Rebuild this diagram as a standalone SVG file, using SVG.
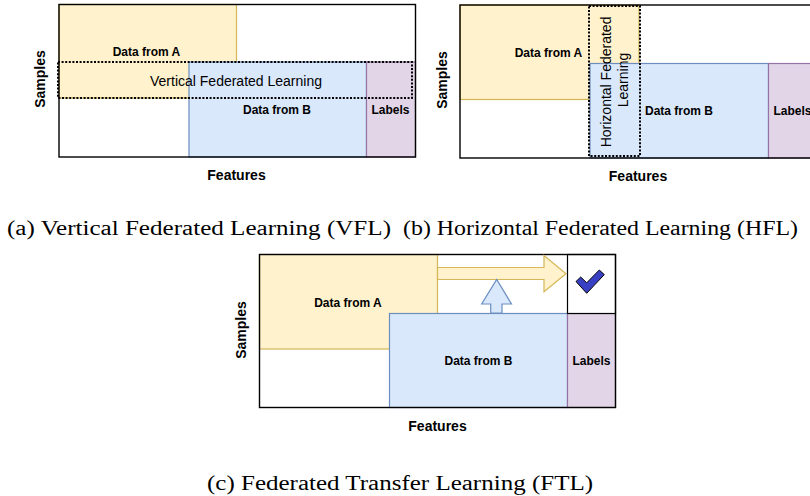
<svg xmlns="http://www.w3.org/2000/svg" width="810" height="496" viewBox="0 0 810 496">
  <style>
    .bg { fill: #ffffff; }
    .frame { fill: none; stroke: #000000; stroke-width: 1.4; }
    .dataA { fill: #fff2cc; stroke: #d6b656; stroke-width: 1.2; }
    .dataB { fill: #dae8fc; stroke: #6c8ebf; stroke-width: 1.2; }
    .labels { fill: #e1d5e7; stroke: #9673a6; stroke-width: 1.2; }
    .cell { fill: #ffffff; stroke: #000000; stroke-width: 1.2; }
    .dotted { fill: none; stroke: #000000; stroke-width: 2; stroke-dasharray: 2 1.6; }
    .lbl { font-family: "Liberation Sans", Arial, sans-serif; font-weight: bold; font-size: 12px; fill: #000000; text-anchor: middle; dominant-baseline: central; }
    .axis { font-family: "Liberation Sans", Arial, sans-serif; font-weight: bold; font-size: 14px; fill: #000000; text-anchor: middle; dominant-baseline: central; }
    .region { font-family: "Liberation Sans", Arial, sans-serif; font-size: 14px; fill: #000000; text-anchor: middle; }
    .caption { font-family: "Liberation Serif", "Times New Roman", serif; font-size: 20px; fill: #000000; }
    .check { fill: #3940c4; stroke: #000000; stroke-width: 1; stroke-linejoin: miter; }
  </style>

  <rect class="bg" x="0" y="0" width="810" height="496"/>

  <!-- (a) Vertical Federated Learning -->
  <g id="panel-vfl">
    <g id="vfl-data-a">
      <rect class="dataA" x="59" y="4.5" width="177.5" height="93.5"/>
      <text class="lbl" x="146.5" y="51.5">Data from A</text>
    </g>
    <g id="vfl-data-b">
      <rect class="dataB" x="189" y="62" width="177.5" height="95"/>
      <text class="lbl" x="277" y="110">Data from B</text>
    </g>
    <g id="vfl-labels">
      <rect class="labels" x="366.5" y="62" width="49" height="95"/>
      <text class="lbl" x="390.5" y="110">Labels</text>
    </g>
    <rect class="frame" x="59" y="4.5" width="356.5" height="152.5"/>
    <g id="vfl-overlap">
      <rect class="dotted" x="58" y="62" width="354" height="36"/>
      <text class="region" x="236" y="85.5">Vertical Federated Learning</text>
    </g>
    <text class="axis" transform="translate(40,79) rotate(-90)">Samples</text>
    <text class="axis" x="236.5" y="174.5">Features</text>
  </g>

  <!-- (b) Horizontal Federated Learning -->
  <g id="panel-hfl">
    <g id="hfl-data-a">
      <rect class="dataA" x="460" y="5" width="179" height="94.5"/>
      <text class="lbl" x="548.5" y="52.5">Data from A</text>
    </g>
    <g id="hfl-data-b">
      <rect class="dataB" x="590" y="63.5" width="178.5" height="94.5"/>
      <text class="lbl" x="679" y="111">Data from B</text>
    </g>
    <g id="hfl-labels">
      <rect class="labels" x="768.5" y="63.5" width="49" height="94.5"/>
      <text class="lbl" x="792.5" y="111">Labels</text>
    </g>
    <rect class="frame" x="460" y="5" width="357" height="153"/>
    <g id="hfl-overlap">
      <rect class="dotted" x="589" y="6" width="51" height="150"/>
      <text class="region" transform="translate(615,80) rotate(-90)">
        <tspan x="0" y="-3.8">Horizontal Federated</tspan>
        <tspan x="0" y="12.8">Learning</tspan>
      </text>
    </g>
    <text class="axis" transform="translate(441.5,80) rotate(-90)">Samples</text>
    <text class="axis" x="638" y="176">Features</text>
  </g>

  <!-- (c) Federated Transfer Learning -->
  <g id="panel-ftl">
    <g id="ftl-data-a">
      <rect class="dataA" x="259.5" y="254.5" width="178" height="94.5"/>
      <text class="lbl" x="348" y="302.5">Data from A</text>
    </g>
    <g id="ftl-data-b">
      <rect class="dataB" x="389.5" y="313.5" width="178" height="94"/>
      <text class="lbl" x="478.5" y="361">Data from B</text>
    </g>
    <g id="ftl-labels">
      <rect class="labels" x="567.5" y="313.5" width="48" height="94"/>
      <text class="lbl" x="591.5" y="361">Labels</text>
    </g>
    <g id="ftl-result">
      <rect class="cell" x="567.5" y="254.5" width="48" height="59"/>
      <polygon class="check" points="576,281.5 580.7,277 586.7,282.8 599.3,270 604.3,274.6 586.7,293.3"/>
    </g>
    <rect class="frame" x="259.5" y="254.5" width="356" height="153"/>
    <g id="ftl-transfers">
      <polygon class="dataA" points="437.5,267.5 544,267.5 544,255.5 566,273.8 544,291.8 544,279.5 437.5,279.5"/>
      <polygon class="dataB" points="490.7,313 490.7,304 481.7,304 496.7,279.5 511.5,304 502,304 502,313"/>
    </g>
    <text class="axis" transform="translate(241,330) rotate(-90)">Samples</text>
    <text class="axis" x="437.5" y="425.5">Features</text>
  </g>

  <!-- sub-figure captions -->
  <g id="captions">
    <text class="caption" x="7" y="235" textLength="384" lengthAdjust="spacingAndGlyphs">(a) Vertical Federated Learning (VFL)</text>
    <text class="caption" x="403" y="235" textLength="395" lengthAdjust="spacingAndGlyphs">(b) Horizontal Federated Learning (HFL)</text>
    <text class="caption" x="207" y="490" textLength="386" lengthAdjust="spacingAndGlyphs">(c) Federated Transfer Learning (FTL)</text>
  </g>
</svg>
